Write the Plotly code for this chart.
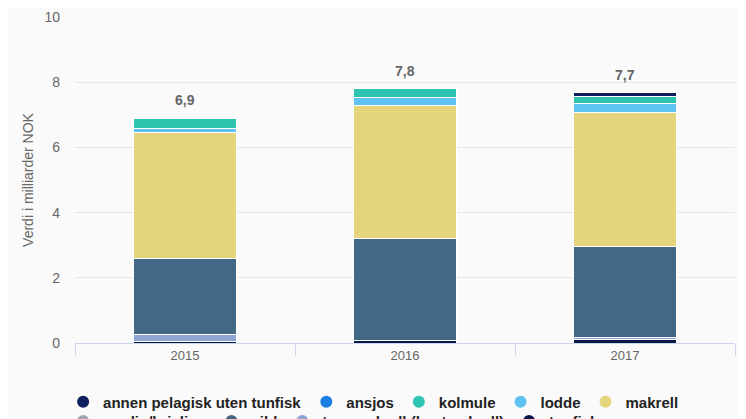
import plotly.graph_objects as go

years = ["2015", "2016", "2017"]

# verdi i milliarder NOK, lest av figuren
annen_pelagisk = [0.0, 0.0, 0.12]
ansjos = [0.0, 0.0, 0.0]
kolmule = [0.33, 0.27, 0.20]
lodde = [0.12, 0.25, 0.29]
makrell = [3.85, 4.08, 4.11]
sardin_brisling = [0.0, 0.0, 0.0]
sild = [2.35, 3.12, 2.79]
taggmakrell = [0.20, 0.0, 0.07]
tunfisk = [0.05, 0.08, 0.10]

series = [
    ("annen pelagisk uten tunfisk", annen_pelagisk, "#0d1f5c"),
    ("ansjos", ansjos, "#1a7fe0"),
    ("kolmule", kolmule, "#2ec4b0"),
    ("lodde", lodde, "#5ec3f2"),
    ("makrell", makrell, "#e4d57c"),
    ("sardin/brisling", sardin_brisling, "#a0a7b0"),
    ("sild", sild, "#426885"),
    ("taggmakrell (hestmakrell)", taggmakrell, "#8fa5d6"),
    ("tunfisk", tunfisk, "#0a1848"),
]

fig = go.Figure()

# stables nedenfra: siste serie nederst
for name, vals, color in reversed(series):
    fig.add_trace(go.Bar(
        x=years, y=vals, name=name, marker_color=color,
        marker_line=dict(color="white", width=1), showlegend=False,
        hovertemplate="%{x}: %{y:.2f}<extra>" + name + "</extra>"
    ))

# legende med runde symboler, to rader
for i, (name, vals, color) in enumerate(series):
    fig.add_trace(go.Scatter(
        x=years, y=[None] * len(years), mode="markers", name=name,
        marker=dict(color=color, size=13, symbol="circle"), hoverinfo="skip",
        legend="legend" if i < 5 else "legend2"
    ))

totals = [sum(s[1][i] for s in series) for i in range(len(years))]
for i, tot in enumerate(totals):
    fig.add_annotation(
        x=i, y=tot, text=f"{tot:.1f}".replace(".", ","), showarrow=False,
        yanchor="bottom", yshift=8,
        font=dict(family="Liberation Sans, Arial", size=14, color="#666666", weight="bold")
    )

leg = dict(
    orientation="h", x=-0.018, xanchor="left", yanchor="middle",
    font=dict(size=15, color="#222222", weight="bold"), itemsizing="constant",
    traceorder="normal", bgcolor="rgba(0,0,0,0)"
)

# siden har 8px marg, så marginene er forskjøvet
fig.update_layout(
    barmode="stack",
    bargap=0.53,
    width=746, height=419,
    margin=dict(l=67, r=19, t=9, b=84, autoexpand=False),
    paper_bgcolor="#fafafa",
    plot_bgcolor="#fafafa",
    font=dict(family="Liberation Sans, Arial", color="#666666", size=12),
    legend=dict(leg, y=-0.181),
    legend2=dict(leg, y=-0.24),
    xaxis=dict(
        type="category", showgrid=False, showline=True, linecolor="#ccd6eb",
        ticks="outside", tickson="boundaries", ticklen=12, tickcolor="#ccd6eb",
        tickfont=dict(size=13, color="#666666")
    ),
    yaxis=dict(
        range=[0, 10], dtick=2, gridcolor="#e6e6e6", zeroline=False,
        ticklabelstandoff=14,
        title=dict(text="Verdi i milliarder NOK", font=dict(size=14, color="#666666"), standoff=7),
        tickfont=dict(size=14, color="#666666")
    ),
)

fig.write_html("out.html")
